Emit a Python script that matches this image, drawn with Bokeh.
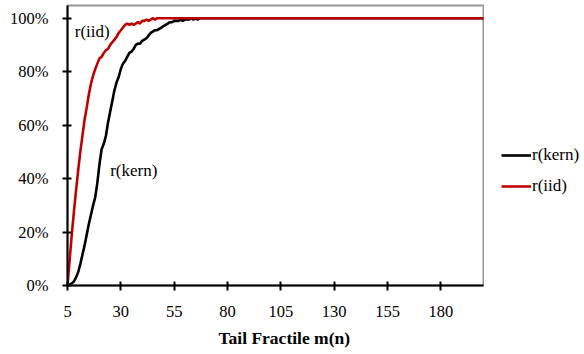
from bokeh.plotting import figure
from bokeh.layouts import row
from bokeh.models import (Range1d, FixedTicker, NumeralTickFormatter, Legend,
                          LegendItem, Label, Title)
from bokeh.embed import file_html
from bokeh.resources import INLINE

# ---- data ----
x_ticks = [5, 30, 55, 80, 105, 130, 155, 180]
y_ticks = [0.0, 0.2, 0.4, 0.6, 0.8, 1.0]

iid_m = [5, 6, 7, 8, 9, 10, 11, 12, 13, 14, 15, 16, 17, 18, 19, 20, 21, 22, 23, 24,
         25, 26, 27, 28, 29, 30, 31, 32, 33, 34, 35, 36, 37, 38, 39, 40, 41, 42, 43,
         44, 45, 46, 47, 200]
iid_r = [0.000, 0.095, 0.190, 0.275, 0.355, 0.430, 0.500, 0.560, 0.620, 0.665,
         0.715, 0.755, 0.785, 0.810, 0.830, 0.850, 0.855, 0.870, 0.880, 0.885,
         0.900, 0.910, 0.920, 0.930, 0.945, 0.955, 0.965, 0.975, 0.980, 0.975,
         0.980, 0.975, 0.980, 0.985, 0.980, 0.990, 0.990, 0.995, 0.990, 0.995,
         1.000, 0.995, 1.000, 1.000]

kern_m = [5, 6, 7, 8, 9, 10, 11, 12, 13, 14, 15, 16, 17, 18, 19, 20, 21, 22, 23, 24,
          25, 26, 27, 28, 29, 30, 31, 32, 33, 34, 35, 36, 37, 38, 39, 40, 41, 42, 43,
          44, 45, 46, 47, 48, 49, 50, 51, 52, 53, 54, 55, 56, 57, 58, 59, 60, 61, 62,
          63, 64, 65, 66, 67, 200]
kern_r = [0.000, 0.004, 0.008, 0.015, 0.030, 0.050, 0.080, 0.115, 0.150, 0.190,
          0.230, 0.265, 0.300, 0.330, 0.385, 0.455, 0.510, 0.530, 0.560, 0.610,
          0.650, 0.690, 0.730, 0.760, 0.780, 0.810, 0.830, 0.840, 0.855, 0.870,
          0.875, 0.885, 0.900, 0.905, 0.905, 0.915, 0.920, 0.925, 0.935, 0.945,
          0.950, 0.955, 0.955, 0.960, 0.965, 0.970, 0.975, 0.980, 0.985, 0.985,
          0.990, 0.990, 0.990, 0.995, 0.990, 0.995, 0.995, 0.995, 1.000, 0.995,
          1.000, 0.995, 1.000, 1.000]

series_names = ["r(kern)", "r(iid)"]

FONT = "'Liberation Serif', 'Times New Roman', serif"
RED = "#C00000"

p = figure(frame_width=416, frame_height=280, output_backend="svg",
           toolbar_location=None,
           x_range=Range1d(5, 200), y_range=Range1d(0, 1.0475),
           min_border_left=67, min_border_right=1, min_border_top=5,
           min_border_bottom=69)
p.background_fill_color = "white"
p.border_fill_color = "white"
p.outline_line_color = "#969696"
p.outline_line_width = 2
p.xgrid.visible = False
p.ygrid.visible = False

p.line(kern_m, kern_r, line_color="black", line_width=2.6)
p.line(iid_m, iid_r, line_color=RED, line_width=2.6)

for ax in (p.xaxis[0], p.yaxis[0]):
    ax.axis_line_color = "black"
    ax.axis_line_width = 2
    ax.major_tick_line_color = "black"
    ax.major_tick_line_width = 2
    ax.major_tick_in = 4
    ax.major_tick_out = 5
    ax.minor_tick_line_color = None
    ax.major_label_text_font = FONT
    ax.major_label_text_font_size = "16.5px"
    ax.major_label_text_color = "black"

p.xaxis[0].major_label_standoff = 15
p.yaxis[0].major_label_standoff = 14
p.xaxis[0].ticker = FixedTicker(ticks=x_ticks)
p.yaxis[0].ticker = FixedTicker(ticks=y_ticks)
p.yaxis[0].formatter = NumeralTickFormatter(format="0%")

t = Title(text="Tail Fractile m(n)", align="left", offset=151,
          text_font=FONT, text_font_size="17.5px", text_font_style="bold",
          text_color="black", standoff=12)
p.add_layout(t, "below")

p.add_layout(Label(x=8.4, y=0.95, text="r(iid)", text_font=FONT,
                   text_font_size="17px", text_baseline="middle",
                   text_color="black"))
p.add_layout(Label(x=25.0, y=0.43, text="r(kern)", text_font=FONT,
                   text_font_size="17px", text_baseline="middle",
                   text_color="black"))

# legend panel to the right of the plot box (its lines lie outside its view)
q = figure(width=100, height=354, output_backend="svg", toolbar_location=None,
           x_range=Range1d(-2, -1), y_range=Range1d(0, 1),
           x_axis_location=None, y_axis_location=None,
           min_border=0)
q.outline_line_color = None
q.xgrid.visible = False
q.ygrid.visible = False
q.background_fill_color = "white"
q.border_fill_color = "white"
g_kern = q.line(kern_m, kern_r, line_color="black", line_width=2.6)
g_iid = q.line(iid_m, iid_r, line_color=RED, line_width=2.6)

legend = Legend(items=[LegendItem(label=series_names[0], renderers=[g_kern]),
                       LegendItem(label=series_names[1], renderers=[g_iid])],
                location=(17, 89), orientation="vertical",
                glyph_width=30, glyph_height=20, spacing=11, padding=0,
                margin=0, label_standoff=1, label_height=20,
                label_text_font=FONT, label_text_font_size="17px",
                label_text_color="black",
                border_line_color=None, background_fill_alpha=0)
q.add_layout(legend, "center")

layout = row(p, q, spacing=0)
open("out.html", "w").write(file_html(layout, INLINE))
